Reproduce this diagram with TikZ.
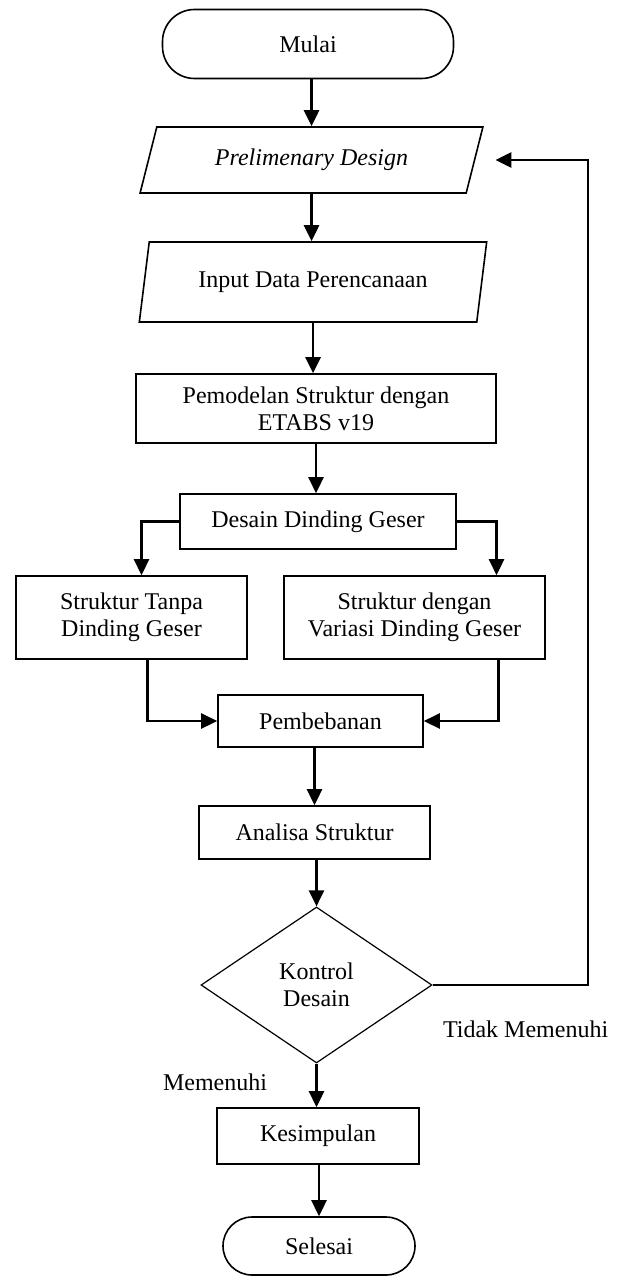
\documentclass[tikz,border=0pt]{standalone}
\usepackage{fontspec}
\setmainfont{Liberation Serif}
\usetikzlibrary{arrows.meta,shapes.geometric}

\begin{document}
\begin{tikzpicture}[x=0.5pt, y=-0.5pt,
    font=\fontsize{12}{13.5}\selectfont,
    box/.style={draw, line width=0.8pt, align=center, inner sep=2pt},
    term/.style={box, rounded corners=16pt},
    io/.style={box, trapezium, trapezium stretches=true},
    arr/.style={-{Triangle[length=8pt, width=7.5pt]}, line width=1.3pt}]
    \useasboundingbox (0,0) rectangle (616,1278);

    % Start and input
    \node[term, minimum width=145.5pt, minimum height=34.5pt] (mulai) at (308,44) {Mulai};
    \node[io, trapezium left angle=70, trapezium right angle=110,
          minimum width=171.5pt, minimum height=33pt] (pre) at (311.5,160) {\textit{Prelimenary Design}};
    \node[io, trapezium left angle=76, trapezium right angle=104,
          minimum width=174pt, minimum height=40pt] (input) at (313,282) {Input Data Perencanaan};

    % Modelling
    \node[box, minimum width=180pt, minimum height=34.5pt] (model) at (316,408.5) {Pemodelan Struktur dengan\\ETABS v19};
    \node[box, minimum width=138pt, minimum height=27.5pt] (dinding) at (318,521.5) {Desain Dinding Geser};
    \node[box, minimum width=115.5pt, minimum height=41.5pt] (tanpa) at (131.5,617.5) {Struktur Tanpa\\Dinding Geser};
    \node[box, minimum width=130.5pt, minimum height=41.5pt] (variasi) at (414.5,617.5) {Struktur dengan\\Variasi Dinding Geser};

    % Analysis
    \node[box, minimum width=102.5pt, minimum height=26pt] (beban) at (320.5,721) {Pembebanan};
    \node[box, minimum width=115.5pt, minimum height=26.5pt] (analisa) at (314.5,832.5) {Analisa Struktur};
    \node[draw, diamond, line width=0.6pt, align=center, inner sep=0pt,
          minimum width=115.5pt, minimum height=78pt] (kontrol) at (316.5,985) {Kontrol\\Desain};

    % End
    \node[box, minimum width=101pt, minimum height=28pt] (simpul) at (318,1136) {Kesimpulan};
    \node[term, minimum width=96pt, minimum height=29pt, rounded corners=14.5pt] (selesai) at (319,1246) {Selesai};

    % Labels
    \node (ya) at (215,1082) {Memenuhi};
    \node[anchor=west] (tidak) at (436,1029) {Tidak Memenuhi};

    % Main flow
    \draw[arr] (mulai.south -| pre.north) -- (pre.north);
    \draw[arr] (pre.south) -- (pre.south |- input.north);
    \draw[arr] (input.south) -- (input.south |- model.north);
    \draw[arr] (model.south) -- (model.south |- dinding.north);
    \draw[arr] (dinding.west) -| ([xshift=5pt]tanpa.north);
    \draw[arr] (dinding.east) -| ([xshift=41pt]variasi.north);
    \draw[arr] ([xshift=8pt]tanpa.south) |- (beban.west);
    \draw[arr] ([xshift=42pt]variasi.south) |- (beban.east);
    \draw[arr] (beban.south -| analisa.north) -- (analisa.north);
    \draw[arr] (analisa.south -| kontrol.north) -- (kontrol.north);
    \draw[arr] (kontrol.south) -- (kontrol.south |- simpul.north);
    \draw[arr] (simpul.south -| selesai.north) -- (selesai.north);

    % Back to design
    \draw[arr, shorten >=10pt] (kontrol.east) -- ++(155.5,0) |- (pre.east);
\end{tikzpicture}
\end{document}
